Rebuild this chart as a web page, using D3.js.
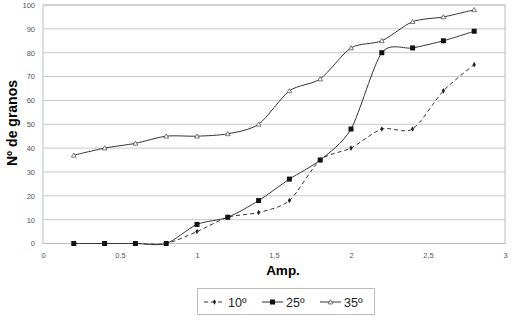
<!DOCTYPE html>
<html><head><meta charset="utf-8">
<script src="https://cdn.jsdelivr.net/npm/d3@7"></script>
<style>body{margin:0;background:#fff}svg{display:block;font-family:"Liberation Sans",Arial,sans-serif}</style>
</head><body><svg id="c" width="512" height="320"></svg>
<script>
const xs = [0.2,0.4,0.6,0.8,1.0,1.2,1.4,1.6,1.8,2.0,2.2,2.4,2.6,2.8];
const s10 = [0,0,0,0,5,11,13,18,35,40,48,48,64,75];
const s25 = [0,0,0,0,8,11,18,27,35,48,80,82,85,89];
const s35 = [37,40,42,45,45,46,50,64,69,82,85,93,95,98];
const seriesNames = ["10º","25º","35º"];
const xTicks = [0,0.5,1,1.5,2,2.5,3];
const xTickLabels = ["0","0.5","1","1,5","2","2,5","3"];
const yTicks = [0,10,20,30,40,50,60,70,80,90,100];

const svg = d3.select("#c");
const L=43,R=505,T=5,B=243.5;
const x = d3.scaleLinear().domain([0,3]).range([L,R]);
const y = d3.scaleLinear().domain([0,100]).range([B,T]);

svg.append("g").selectAll("line").data(yTicks.slice(1)).join("line")
  .attr("x1",L).attr("x2",R).attr("y1",d=>y(d)).attr("y2",d=>y(d))
  .attr("stroke","#c8c8c8").attr("stroke-width",1);
svg.append("rect").attr("x",L).attr("y",T).attr("width",R-L).attr("height",B-T)
  .attr("fill","none").attr("stroke","#bdbdbd").attr("stroke-width",1);

const yAxis = d3.axisLeft(y).tickValues(yTicks).tickSize(0).tickPadding(8);
const gy = svg.append("g").attr("transform",`translate(${L},0)`).call(yAxis);
gy.select(".domain").remove();
gy.selectAll("text").attr("font-size",7.5).attr("fill","#555");
const xAxis = d3.axisBottom(x).tickValues(xTicks).tickSize(0).tickPadding(9)
  .tickFormat((d,i)=>xTickLabels[i]);
const gx = svg.append("g").attr("transform",`translate(0,${B})`).call(xAxis);
gx.select(".domain").remove();
gx.selectAll("text").attr("font-size",7.5).attr("fill","#555");

svg.append("text").attr("x",283).attr("y",275).attr("text-anchor","middle")
  .attr("font-size",13.5).attr("font-weight","bold").text("Amp.");
svg.append("text").attr("transform","translate(17,123) rotate(-90)").attr("text-anchor","middle")
  .attr("font-size",14).attr("font-weight","bold").text("Nº de granos");

const line = d3.line().x(d=>x(d[0])).y(d=>y(d[1])).curve(d3.curveCardinal.tension(0.2));
const data = [s10,s25,s35].map(s=>xs.map((v,i)=>[v,s[i]]));
const dash = ["4,3",null,null];

function marker(g,k,cx,cy){
  if(k===0){
    g.append("path").attr("d",d3.symbol(d3.symbolDiamond,9)()).attr("transform",`translate(${cx},${cy})`).attr("fill","#222");
  } else if(k===1){
    g.append("rect").attr("x",cx-2.5).attr("y",cy-2.5).attr("width",5).attr("height",5).attr("fill","#111");
  } else {
    g.append("path").attr("d",d3.symbol(d3.symbolTriangle,10)()).attr("transform",`translate(${cx},${cy+0.5})`).attr("fill","#fff").attr("stroke","#444").attr("stroke-width",0.7);
  }
}
[2,0,1].forEach(k=>{
  svg.append("path").datum(data[k]).attr("d",line).attr("fill","none")
    .attr("stroke","#333").attr("stroke-width",1).attr("stroke-dasharray",dash[k]);
});
[2,0,1].forEach(k=>{
  const g=svg.append("g");
  data[k].forEach(d=>marker(g,k,x(d[0]),y(d[1])));
});

svg.append("rect").attr("x",197.5).attr("y",288.5).attr("width",177).attr("height",26)
  .attr("fill","#fff").attr("stroke","#bdbdbd");
const lx=[204,262,320];
seriesNames.forEach((n,k)=>{
  const g=svg.append("g");
  g.append("line").attr("x1",lx[k]).attr("x2",lx[k]+21).attr("y1",302).attr("y2",302)
    .attr("stroke","#333").attr("stroke-dasharray",dash[k]);
  marker(g,k,lx[k]+10.5,302);
  g.append("text").attr("x",lx[k]+24).attr("y",306.5).attr("font-size",12.5).attr("fill","#222").text(n);
});
</script></body></html>
